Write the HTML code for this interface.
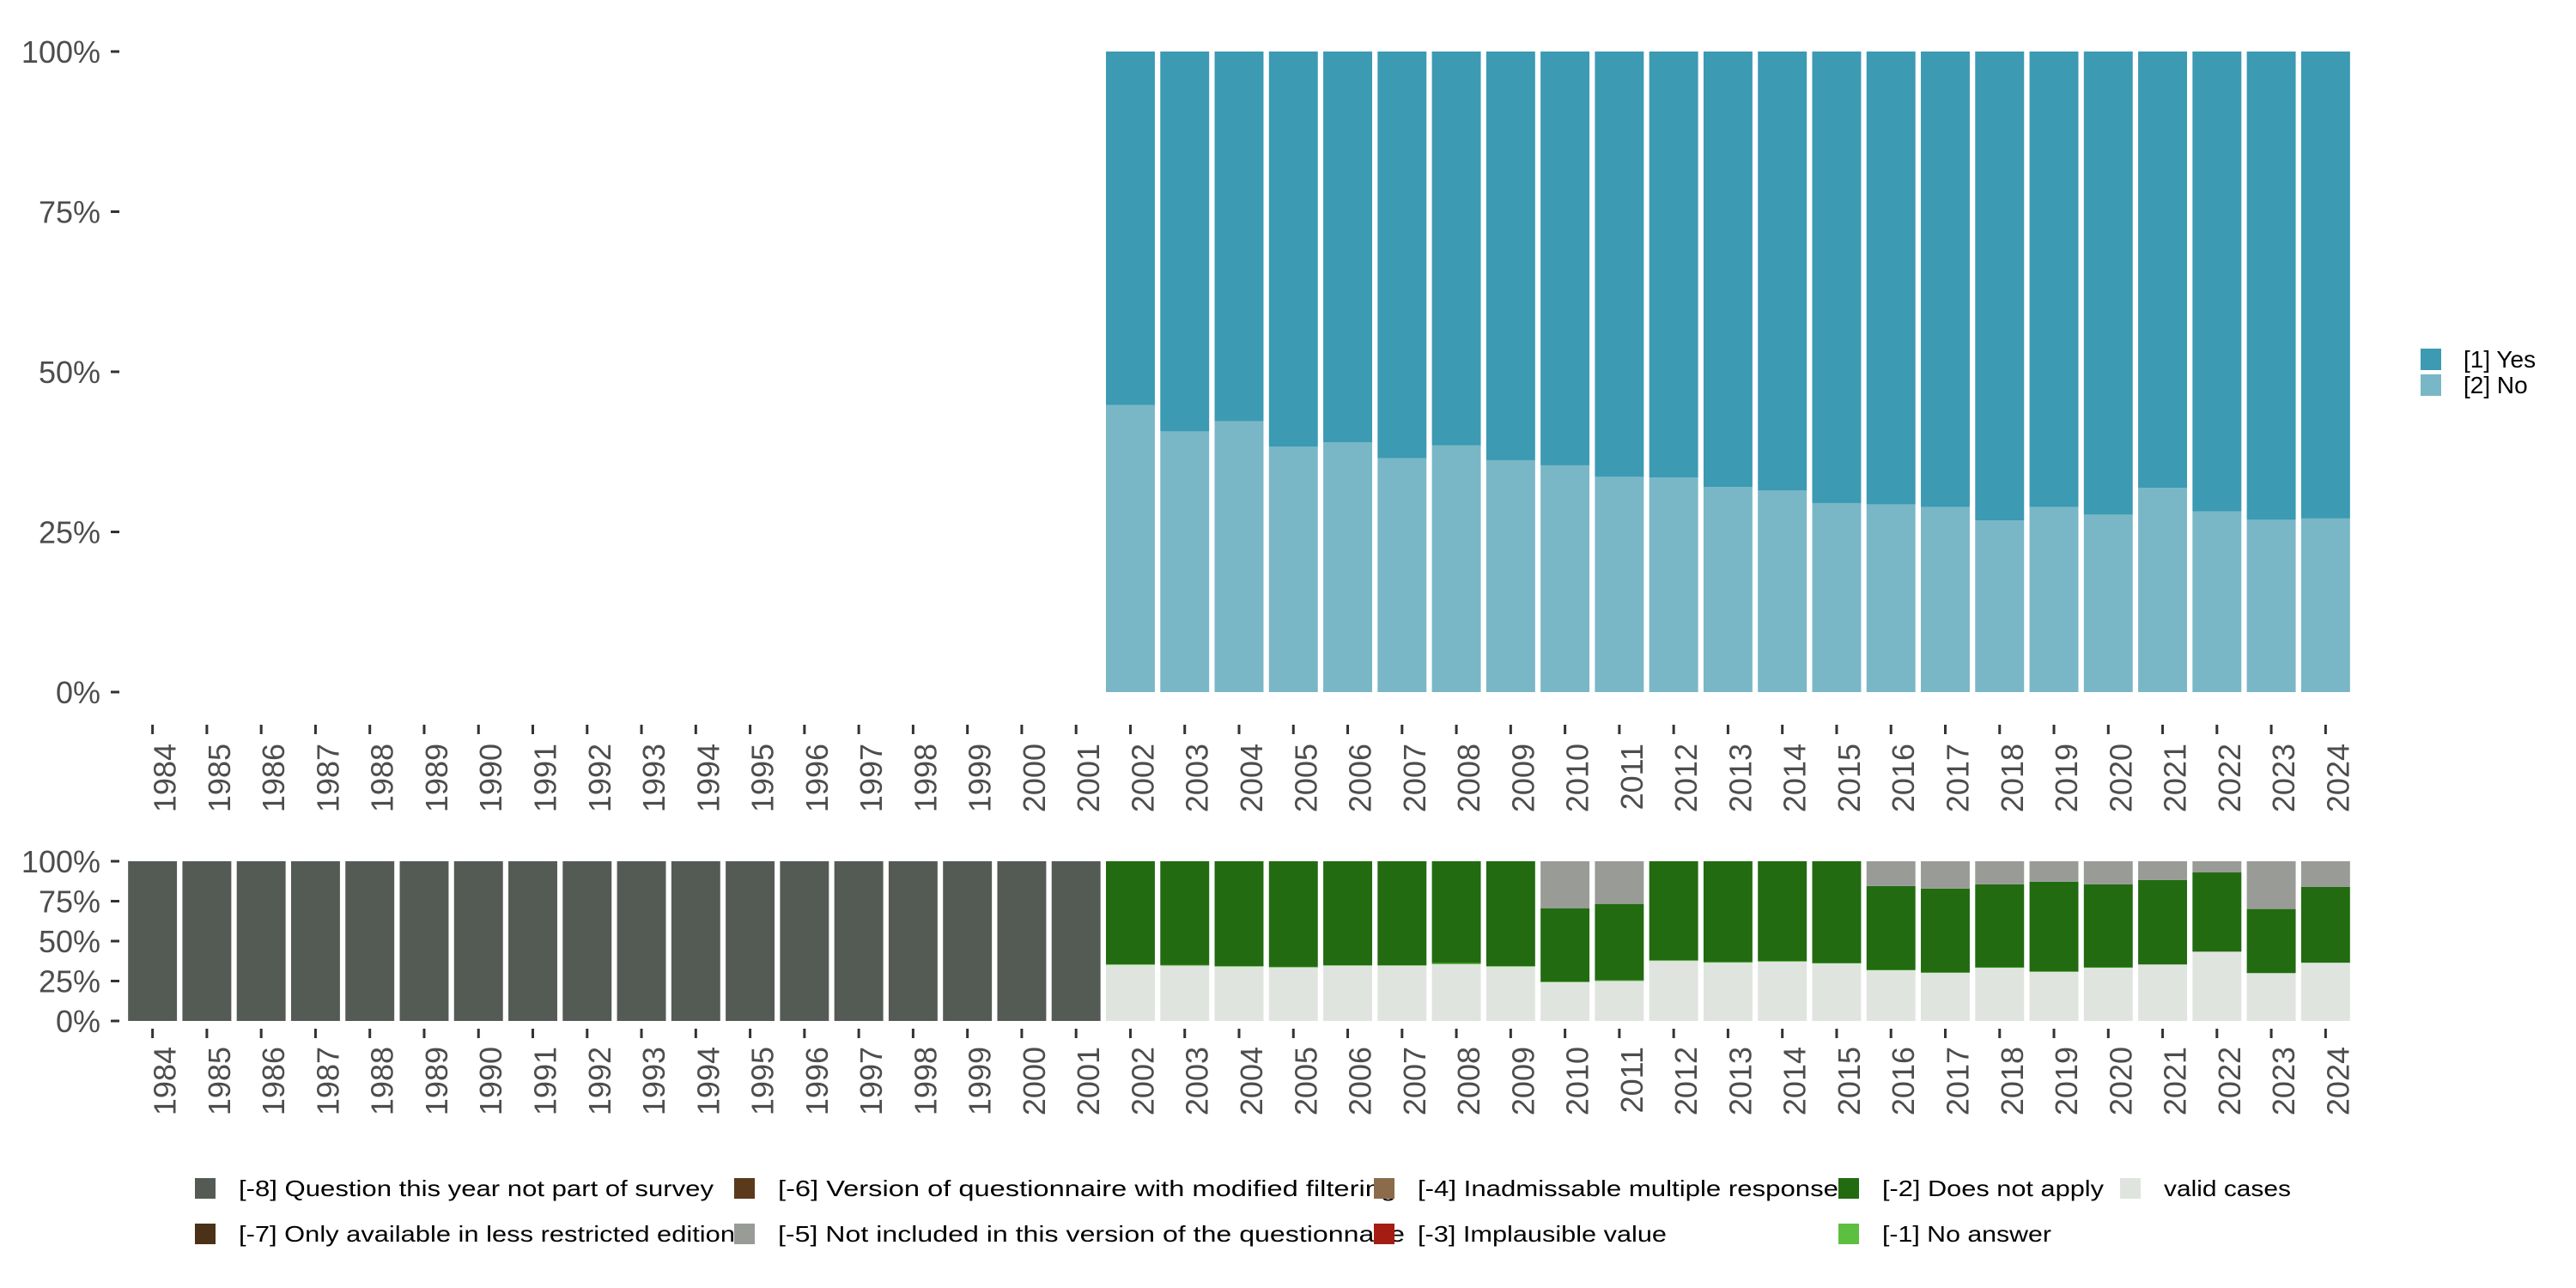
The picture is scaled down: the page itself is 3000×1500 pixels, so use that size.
<!DOCTYPE html>
<html><head><meta charset="utf-8"><style>
html,body{margin:0;padding:0;background:#fff;}
svg{display:block;font-family:"Liberation Sans",sans-serif;}
</style></head><body>
<svg id="chart" width="3000" height="1500" viewBox="0 0 3000 1500" xmlns="http://www.w3.org/2000/svg">
<g id="top"></g>
<g id="bottom"></g>
<g id="legendTop"></g>
<g id="legendBottom"></g>
</svg>
<script>
const years = [];
for (let y = 1984; y <= 2024; y++) years.push(String(y));
const dataYears = ["2002","2003","2004","2005","2006","2007","2008","2009","2010","2011","2012","2013","2014","2015","2016","2017","2018","2019","2020","2021","2022","2023","2024"];
const noShare = [44.8,40.7,42.3,38.3,39.0,36.5,38.5,36.2,35.4,33.6,33.5,32.0,31.5,29.5,29.3,28.9,26.8,28.9,27.7,31.9,28.2,26.9,27.1];
const validShare = [35.1,34.6,34.0,33.5,34.6,34.6,35.5,34.0,24.2,25.0,37.6,36.5,37.1,36.0,31.7,30.1,33.3,30.7,33.3,35.3,43.3,29.9,36.4];
const noAnswerShare = [0.4,0.4,0.4,0.4,0.3,0.3,0.7,0.4,0.4,0.4,0.4,0.4,0.4,0.3,0.3,0.3,0.3,0.3,0.3,0.1,0.1,0.1,0.1];
const doesNotApplyTop = [100,100,100,100,100,100,100,100,70.6,73.3,100,100,100,100,84.5,82.9,85.6,87.2,85.6,88.2,93.0,70.1,84.0];
const yTicks = [0,25,50,75,100];
const yTickLabels = ["0%","25%","50%","75%","100%"];

const NS = "http://www.w3.org/2000/svg";
function mk(tag, attrs, parent){const e=document.createElementNS(NS,tag);for(const k in attrs)e.setAttribute(k,attrs[k]);parent.appendChild(e);return e;}
const x0=146, x1=2740, step=(x1-x0)/years.length, bw=step*0.9;
function xc(cat){return x0+step*(years.indexOf(cat)+0.5);}

function axes(g, yFn, tickTop, labelTop, prefix){
  yTicks.forEach((t,i)=>{
    const tk=mk("rect",{x:129,y:yFn(t)-1.5,width:10,height:3,fill:"#333"},g);
    
    
    const tx=mk("text",{x:117,y:yFn(t)+13,"text-anchor":"end","font-size":36,fill:"#4d4d4d"},g);
    tx.textContent=yTickLabels[i];
    
    
  });
  years.forEach(yr=>{
    const c=xc(yr);
    const tk=mk("rect",{x:c-1.5,y:tickTop,width:3,height:11,fill:"#333"},g);
    
    
    const tx=mk("text",{x:0,y:0,"text-anchor":"end","font-size":36,fill:"#4d4d4d",transform:`translate(${c+27},${labelTop}) rotate(-90)`},g);
    tx.textContent=yr;
    
    
  });
}
function bar(g,cat,lo,hi,yFn,color,name){
  const r=mk("rect",{x:xc(cat)-bw/2,y:yFn(hi),width:bw,height:Math.max(0,yFn(lo)-yFn(hi)),fill:color},g);
  
  
}

const gT=document.getElementById("top");
const yT=v=>806-v/100*746;
axes(gT,yT,844,866,'top');
dataYears.forEach((yr,i)=>{
  bar(gT,yr,0,noShare[i],yT,"#79b7c6",'bar-no-'+yr);
  bar(gT,yr,noShare[i],100,yT,"#3c9ab3",'bar-yes-'+yr);
});

const gB=document.getElementById("bottom");
const yB=v=>1189-v/100*186;
axes(gB,yB,1198,1219,'bottom');
years.forEach(yr=>{ if(dataYears.indexOf(yr)<0) bar(gB,yr,0,100,yB,"#545b55",'bar-not-in-survey-'+yr); });
dataYears.forEach((yr,i)=>{
  const v=validShare[i], na=noAnswerShare[i], d=doesNotApplyTop[i];
  bar(gB,yr,0,v,yB,"#e0e4df",'bar-valid-'+yr);
  bar(gB,yr,v,v+na,yB,"#5cbf40",'bar-no-answer-'+yr);
  bar(gB,yr,v+na,d,yB,"#226b11",'bar-does-not-apply-'+yr);
  if(d<100) bar(gB,yr,d,100,yB,"#999c96",'bar-not-included-'+yr);
});

const gL=document.getElementById("legendTop");
[["[1] Yes","#3c9ab3",406],["[2] No","#79b7c6",436]].forEach(([t,c,y])=>{
  const s=mk("rect",{x:2819,y:y,width:24,height:25,fill:c},gL);
  
  
  const tx=mk("text",{x:2869,y:y+22,"font-size":28,fill:"#000"},gL);
  tx.textContent=t;
  
  
});

const gBL=document.getElementById("legendBottom");
const items=[
 ["[-8] Question this year not part of survey","#545b55",227,1372,553],
 ["[-7] Only available in less restricted edition","#4a3118",227,1425,578],
 ["[-6] Version of questionnaire with modified filtering","#5a3a1a",855,1372,720],
 ["[-5] Not included in this version of the questionnaire","#999c96",855,1425,730],
 ["[-4] Inadmissable multiple response","#8b6b4a",1600,1372,490],
 ["[-3] Implausible value","#a51c12",1600,1425,290],
 ["[-2] Does not apply","#226b11",2141,1372,258],
 ["[-1] No answer","#5cbf40",2141,1425,197],
 ["valid cases","#e0e4df",2469,1372,148]
];
items.forEach(([t,c,x,y,w])=>{
  const s=mk("rect",{x:x,y:y,width:24,height:24,fill:c},gBL);
  
  
  const tx=mk("text",{x:x+51,y:y+21,"font-size":26,fill:"#000",textLength:w,lengthAdjust:"spacingAndGlyphs"},gBL);
  tx.textContent=t;
  
  
});
</script>
</body></html>
